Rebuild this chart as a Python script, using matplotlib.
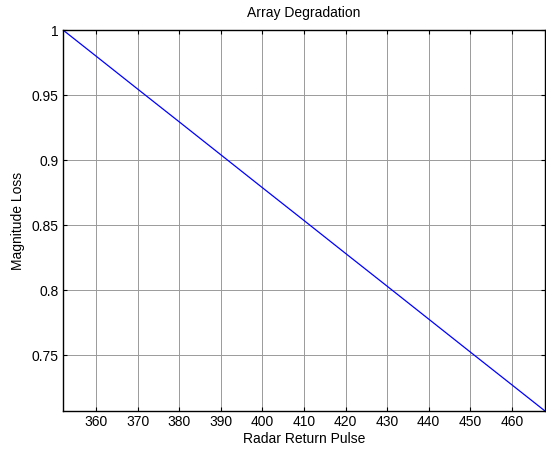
import matplotlib
matplotlib.use("Agg")
import matplotlib.pyplot as plt

pulse = [352, 360, 370, 380, 390, 400, 410, 420, 430, 440, 450, 460, 468]
loss = [1.0, 0.9798, 0.9545, 0.9293, 0.9040, 0.8787, 0.8535, 0.8282, 0.8030, 0.7777, 0.7524, 0.7272, 0.7070]
xticks = [360, 370, 380, 390, 400, 410, 420, 430, 440, 450, 460]
yticks = [0.75, 0.8, 0.85, 0.9, 0.95, 1.0]
yticklabels = ["0.75", "0.8", "0.85", "0.9", "0.95", "1"]

plt.rcParams['font.family'] = ['Liberation Sans', 'DejaVu Sans']
fig = plt.figure(figsize=(5.46, 4.51), dpi=100)
ax = fig.add_axes([63/546, 1-411/451, (545-63)/546, (411-30)/451])
ax.plot(pulse, loss, color='#0000ff', lw=0.9)
ax.set_xlim(352, 468)
ax.set_ylim(0.707, 1.0)
ax.set_xticks(xticks)
ax.set_yticks(yticks)
ax.set_yticklabels(yticklabels)
ax.tick_params(direction='in', top=True, right=True, labelsize=10, length=3, width=0.8, pad=3)
ax.grid(True, color='#9a9a9a', linestyle='-', lw=0.7)
for s in ax.spines.values():
    s.set_linewidth(1.0)
ax.set_title("Array Degradation", fontsize=10, pad=9)
ax.set_xlabel("Radar Return Pulse", fontsize=10, labelpad=2)
ax.set_ylabel("Magnitude Loss", fontsize=10, labelpad=5)
fig.savefig("out.png", dpi=100)
